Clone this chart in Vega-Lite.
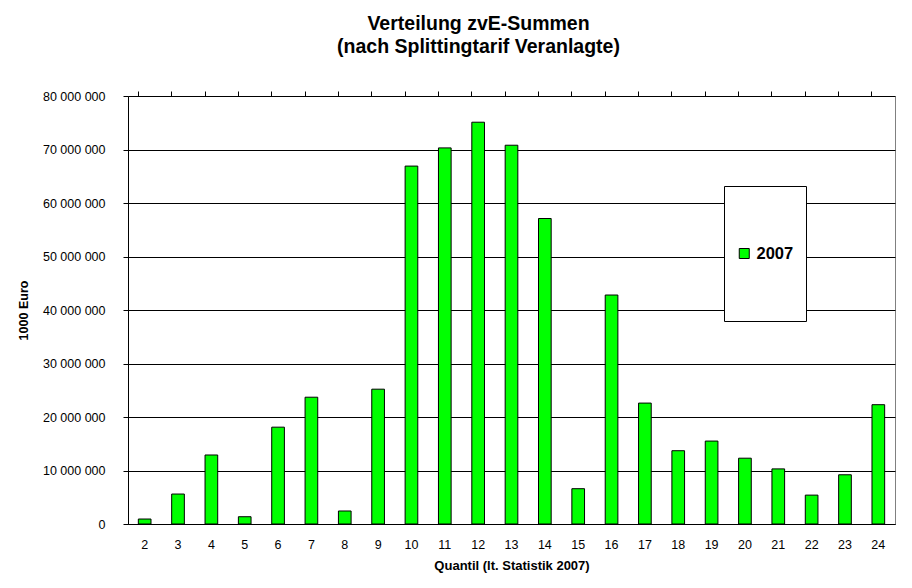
{
  "$schema": "https://vega.github.io/schema/vega-lite/v6.json",
  "autosize": {"type": "none"},
  "padding": {"left": 128, "top": 96, "right": 17, "bottom": 64},
  "width": 767,
  "height": 428,
  "background": "white",
  "title": {
    "text": ["Verteilung zvE-Summen", "(nach Splittingtarif Veranlagte)"],
    "font": "Liberation Sans",
    "fontSize": 19.5,
    "fontWeight": "bold",
    "color": "black",
    "lineHeight": 23,
    "anchor": "middle",
    "dx": -33,
    "offset": 33
  },
  "data": {
    "values": [
      {"Quantil": 2, "Summe": 930000, "Jahr": "2007"},
      {"Quantil": 3, "Summe": 5600000, "Jahr": "2007"},
      {"Quantil": 4, "Summe": 12900000, "Jahr": "2007"},
      {"Quantil": 5, "Summe": 1360000, "Jahr": "2007"},
      {"Quantil": 6, "Summe": 18100000, "Jahr": "2007"},
      {"Quantil": 7, "Summe": 23700000, "Jahr": "2007"},
      {"Quantil": 8, "Summe": 2430000, "Jahr": "2007"},
      {"Quantil": 9, "Summe": 25200000, "Jahr": "2007"},
      {"Quantil": 10, "Summe": 66900000, "Jahr": "2007"},
      {"Quantil": 11, "Summe": 70300000, "Jahr": "2007"},
      {"Quantil": 12, "Summe": 75100000, "Jahr": "2007"},
      {"Quantil": 13, "Summe": 70800000, "Jahr": "2007"},
      {"Quantil": 14, "Summe": 57100000, "Jahr": "2007"},
      {"Quantil": 15, "Summe": 6600000, "Jahr": "2007"},
      {"Quantil": 16, "Summe": 42800000, "Jahr": "2007"},
      {"Quantil": 17, "Summe": 22600000, "Jahr": "2007"},
      {"Quantil": 18, "Summe": 13700000, "Jahr": "2007"},
      {"Quantil": 19, "Summe": 15500000, "Jahr": "2007"},
      {"Quantil": 20, "Summe": 12300000, "Jahr": "2007"},
      {"Quantil": 21, "Summe": 10300000, "Jahr": "2007"},
      {"Quantil": 22, "Summe": 5400000, "Jahr": "2007"},
      {"Quantil": 23, "Summe": 9200000, "Jahr": "2007"},
      {"Quantil": 24, "Summe": 22300000, "Jahr": "2007"}
    ]
  },
  "encoding": {
    "y": {
      "field": "Summe",
      "type": "quantitative",
      "scale": {"domain": [0, 80000000], "nice": false},
      "axis": {
        "title": "1000 Euro",
        "values": [0, 10000000, 20000000, 30000000, 40000000, 50000000, 60000000, 70000000, 80000000],
        "labelExpr": "replace(replace(format(datum.value, ','), ',', ' '), ',', ' ')",
        "labelFont": "Liberation Sans",
        "labelFontSize": 12.5,
        "labelColor": "black",
        "labelPadding": 18,
        "tickSize": 5,
        "tickColor": "black",
        "domainColor": "black",
        "grid": true,
        "gridColor": "black",
        "gridOpacity": 1,
        "titleFont": "Liberation Sans",
        "titleFontSize": 12.5,
        "titleFontWeight": "bold",
        "titleColor": "black",
        "titlePadding": 12
      }
    }
  },
  "layer": [
    {
      "mark": {"type": "bar", "stroke": "black", "strokeWidth": 1},
      "encoding": {
        "x": {
          "field": "Quantil",
          "type": "ordinal",
          "scale": {"paddingInner": 0.62, "paddingOuter": 0.31},
          "axis": {
            "title": "Quantil (lt. Statistik 2007)",
            "labelAngle": 0,
            "labelFont": "Liberation Sans",
            "labelFontSize": 12.5,
            "labelColor": "black",
            "labelPadding": 14,
            "ticks": false,
            "domainColor": "black",
            "grid": false,
            "titleFont": "Liberation Sans",
            "titleFontSize": 13,
            "titleFontWeight": "bold",
            "titleColor": "black",
            "titlePadding": 9
          }
        },
        "color": {
          "field": "Jahr",
          "type": "nominal",
          "scale": {"range": ["#00ff00"]},
          "legend": {
            "title": null,
            "orient": "none",
            "legendX": 596,
            "legendY": 90,
            "padding": 12,
            "clipHeight": 111,
            "strokeColor": "black",
            "fillColor": "white",
            "symbolType": "square",
            "symbolSize": 100,
            "symbolStrokeColor": "black",
            "symbolStrokeWidth": 1,
            "symbolOpacity": 1,
            "labelFont": "Liberation Sans",
            "labelFontSize": 16.5,
            "labelFontWeight": "bold",
            "labelColor": "black",
            "labelOffset": 4
          }
        }
      }
    },
    {
      "mark": {"type": "bar", "opacity": 0},
      "encoding": {
        "x": {
          "field": "Quantil",
          "type": "ordinal",
          "axis": {
            "title": null,
            "labels": false,
            "domain": false,
            "grid": false,
            "ticks": true,
            "tickSize": 5,
            "tickColor": "black",
            "bandPosition": 0
          }
        }
      }
    }
  ],
  "resolve": {"axis": {"x": "independent"}},
  "config": {
    "view": {"stroke": "#808080", "strokeWidth": 1},
    "font": "Liberation Sans"
  }
}
